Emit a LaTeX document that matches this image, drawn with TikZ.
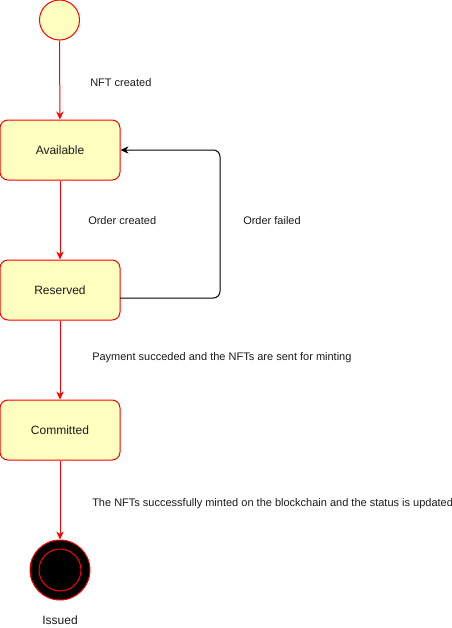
\documentclass[tikz,border=0pt]{standalone}
\usepackage{fontspec}
\setmainfont{Liberation Sans}
\usetikzlibrary{arrows.meta}
\usetikzlibrary{positioning}

\definecolor{stateyellow}{HTML}{FFFFC0}
\definecolor{statered}{HTML}{FF0000}
\definecolor{labelgray}{HTML}{1A1A1A}

\tikzset{
    statebox/.style={draw=statered, fill=stateyellow, line width=0.75pt, rounded corners=6pt,
        minimum width=90pt, minimum height=45pt, inner sep=0pt, text=labelgray,
        font=\fontsize{9}{11}\selectfont},
    flowlabel/.style={anchor=west, inner sep=0pt, text=labelgray, font=\fontsize{8.25}{10}\selectfont},
    redflow/.style={-{Stealth[length=6pt, width=5.5pt]}, draw=statered, line width=0.75pt},
    backflow/.style={-{Stealth[length=6pt, width=5.5pt]}, draw=black, line width=0.75pt, rounded corners=5pt}
}

\begin{document}
\begin{tikzpicture}[x=0.75pt, y=-0.75pt]
    \useasboundingbox (0,0) rectangle (452,628);

    % Start state
    \node[circle, draw=statered, fill=stateyellow, line width=0.75pt, minimum size=30pt, inner sep=0pt] (start) at (59.5,20) {};

    % States
    \node[statebox] (available) at (60,150) {Available};
    \node[statebox] (reserved) at (60,290) {Reserved};
    \node[statebox] (committed) at (60,430) {Committed};

    % End state
    \node[circle, draw=statered, fill=black, line width=0.75pt, minimum size=45pt, inner sep=0pt] (issued) at (60,570) {};
    \node[circle, draw=statered, line width=0.75pt, minimum size=31.5pt, inner sep=0pt] (issuedin) at (60,570) {};
    \node[text=labelgray, font=\fontsize{9}{11}\selectfont] (issuedlbl) at (60,620) {Issued};

    % Transition labels
    \node[flowlabel] (lblcreated) at (90,83) {NFT created};
    \node[flowlabel] (lblorder) at (88,221) {Order created};
    \node[flowlabel] (lblfailed) at (243,221) {Order failed};
    \node[flowlabel] (lblpayment) at (92,358) {Payment succeded and the NFTs are sent for minting};
    \node[flowlabel] (lblminted) at (92,504) {The NFTs successfully minted on the blockchain and the status is updated};

    % Red arrows between states
    \draw[redflow] (start) -- (available);
    \draw[redflow] (available) -- (reserved);
    \draw[redflow] (reserved) -- (committed);
    \draw[redflow] (committed) -- (issued);

    % Black arrow back to available
    \coordinate (failout) at (120,298);
    \draw[backflow] (failout) -- (220,298) -- (220,150) -- (available.east);

\end{tikzpicture}
\end{document}
